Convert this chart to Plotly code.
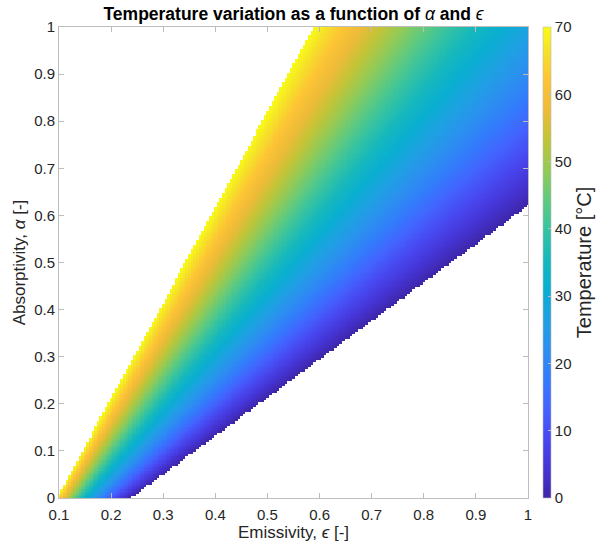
import numpy as np
import plotly.graph_objects as go

# Grid of the computed surface
emissivity = np.round(np.arange(0.10, 1.0001, 0.005), 4)
absorptivity = np.round(np.arange(0.0, 1.0001, 0.005), 4)

# Energy balance: eps*sigma*T^4 = alpha*S + Q
sigma = 5.670e-8
S_flux = 387.0     # W/m^2 absorbed-flux scale
Q_flux = 75.5      # W/m^2 constant load
t_min, t_max = 0, 70
cbar_ticks = [0, 10, 20, 30, 40, 50, 60, 70]
x_ticks = [0.1, 0.2, 0.3, 0.4, 0.5, 0.6, 0.7, 0.8, 0.9, 1]
y_ticks = [0, 0.1, 0.2, 0.3, 0.4, 0.5, 0.6, 0.7, 0.8, 0.9, 1]

E, A = np.meshgrid(emissivity, absorptivity)
T = ((A * S_flux + Q_flux) / (E * sigma)) ** 0.25 - 273.15
T = np.where((T >= t_min) & (T <= t_max), T, np.nan)

parula = [
    [0.000, "rgb(62,38,168)"],
    [0.063, "rgb(69,52,213)"],
    [0.127, "rgb(72,72,240)"],
    [0.190, "rgb(67,98,254)"],
    [0.254, "rgb(51,123,252)"],
    [0.317, "rgb(43,144,239)"],
    [0.381, "rgb(30,161,226)"],
    [0.444, "rgb(9,174,209)"],
    [0.508, "rgb(22,184,188)"],
    [0.571, "rgb(54,195,161)"],
    [0.635, "rgb(98,202,125)"],
    [0.698, "rgb(148,202,85)"],
    [0.762, "rgb(195,196,55)"],
    [0.825, "rgb(237,187,56)"],
    [0.889, "rgb(253,196,53)"],
    [0.952, "rgb(245,227,40)"],
    [1.000, "rgb(249,251,21)"],
]

font_family = "Liberation Sans, Arial, Helvetica, sans-serif"
axis_color = "#bdbdbd"
text_color = "#262626"

fig = go.Figure(
    go.Heatmap(
        x=emissivity,
        y=absorptivity,
        z=T,
        zmin=t_min,
        zmax=t_max,
        colorscale=parula,
        zsmooth=False,
        hoverongaps=False,
        colorbar=dict(
            x=1.032,
            xanchor="left",
            xpad=0,
            ypad=0,
            y=0.5,
            yanchor="middle",
            len=1.0,
            lenmode="fraction",
            thickness=8,
            outlinewidth=0.6,
            outlinecolor=axis_color,
            tickvals=cbar_ticks,
            ticks="inside",
            ticklen=3,
            tickcolor=axis_color,
            tickfont=dict(size=15, color=text_color, family=font_family),
            title=dict(
                text="Temperature [°C]",
                side="right",
                font=dict(size=20, color=text_color, family=font_family),
            ),
        ),
    )
)

axis_common = dict(
    showline=True,
    linecolor=axis_color,
    linewidth=1,
    mirror="ticks",
    ticks="inside",
    ticklen=5,
    tickcolor=axis_color,
    showgrid=False,
    zeroline=False,
    tickfont=dict(size=15, color=text_color, family=font_family),
)

fig.update_layout(
    width=607,
    height=544,
    margin=dict(l=59, r=79, t=27, b=46, autoexpand=False),
    paper_bgcolor="white",
    plot_bgcolor="white",
    font=dict(family=font_family, color=text_color),
    title=dict(
        text="<b>Temperature variation as a function of </b><i>α</i><b> and </b><i>ϵ</i>",
        x=(59 + 234.5) / 607,
        xanchor="center",
        y=1 - 13.5 / 544,
        yanchor="middle",
        font=dict(size=17.5, color="#000000", family=font_family),
    ),
    xaxis=dict(
        range=[0.1, 1.0],
        tickvals=x_ticks,
        ticktext=[("%g" % v) for v in x_ticks],
        ticklabelstandoff=3,
        title=dict(text="Emissivity, <i>ϵ</i> [-]", font=dict(size=17, color=text_color), standoff=2),
        **axis_common,
    ),
    yaxis=dict(
        range=[0.0, 1.0],
        tickvals=y_ticks,
        ticktext=[("%g" % v) for v in y_ticks],
        title=dict(text="Absorptivity, <i>α</i> [-]", font=dict(size=17, color=text_color), standoff=4),
        **axis_common,
    ),
)

fig.write_html(
    "out.html",
    config={"displayModeBar": False},
    post_script="document.body.style.margin='0';document.body.style.padding='0';",
)
